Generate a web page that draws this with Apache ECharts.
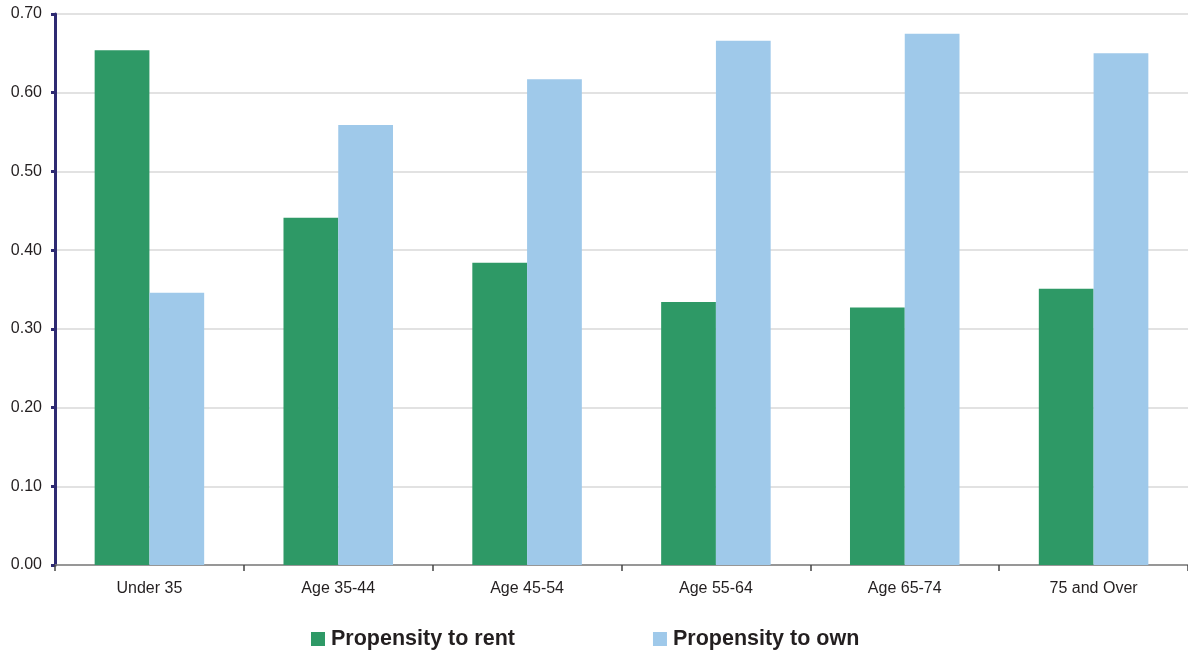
<!DOCTYPE html>
<html>
<head>
<meta charset="utf-8">
<script src="https://cdn.jsdelivr.net/npm/echarts@6/dist/echarts.min.js"></script>
<style>
  html, body { margin: 0; padding: 0; background: #ffffff; }
  #chart { width: 1188px; height: 654px; }
</style>
</head>
<body>
<div id="chart"></div>
<script>
// Age groups along the horizontal axis
const categories = ['Under 35', 'Age 35-44', 'Age 45-54', 'Age 55-64', 'Age 65-74', '75 and Over'];
// Share of households that rent / own in each age group
const rentValues = [0.654, 0.441, 0.384, 0.334, 0.327, 0.351];
const ownValues = [0.346, 0.559, 0.617, 0.666, 0.675, 0.650];
const seriesNames = ['Propensity to rent', 'Propensity to own'];

const chart = echarts.init(document.getElementById('chart'), null, { renderer: 'canvas' });

chart.setOption({
  animation: false,
  textStyle: { fontFamily: 'Liberation Sans, Arial, sans-serif' },
  grid: { left: 55, right: 0, top: 14, bottom: 89, containLabel: false },
  legend: {
    left: 311,
    top: 628,
    padding: 0,
    itemWidth: 14,
    itemHeight: 14,
    itemGap: 138,
    icon: 'rect',
    textStyle: { fontSize: 21.5, fontWeight: 'bold', color: '#231f20', padding: [0, 0, 0, 1] },
    data: seriesNames
  },
  xAxis: {
    type: 'category',
    data: categories,
    axisLine: { lineStyle: { color: '#7f7f7f', width: 1.5 } },
    axisTick: { show: true, length: 6, lineStyle: { color: '#444', width: 1.5 } },
    axisLabel: { fontSize: 16, color: '#231f20', margin: 16 }
  },
  yAxis: {
    type: 'value',
    min: 0,
    max: 0.7,
    interval: 0.1,
    axisLine: { show: true, lineStyle: { color: '#2e2a72', width: 3 } },
    axisTick: { show: true, length: 4, lineStyle: { color: '#2e2a72', width: 3 } },
    axisLabel: {
      fontSize: 16,
      color: '#231f20',
      margin: 13,
      formatter: v => v.toFixed(2)
    },
    splitLine: { lineStyle: { color: '#d9d9d9', width: 1.5 } }
  },
  series: [
    {
      name: seriesNames[0],
      type: 'bar',
      data: rentValues,
      itemStyle: { color: '#2e9966' },
      barGap: '0%',
      barCategoryGap: '42%'
    },
    {
      name: seriesNames[1],
      type: 'bar',
      data: ownValues,
      itemStyle: { color: '#9fc9ea' },
      barGap: '0%',
      barCategoryGap: '42%'
    }
  ]
});
</script>
</body>
</html>
